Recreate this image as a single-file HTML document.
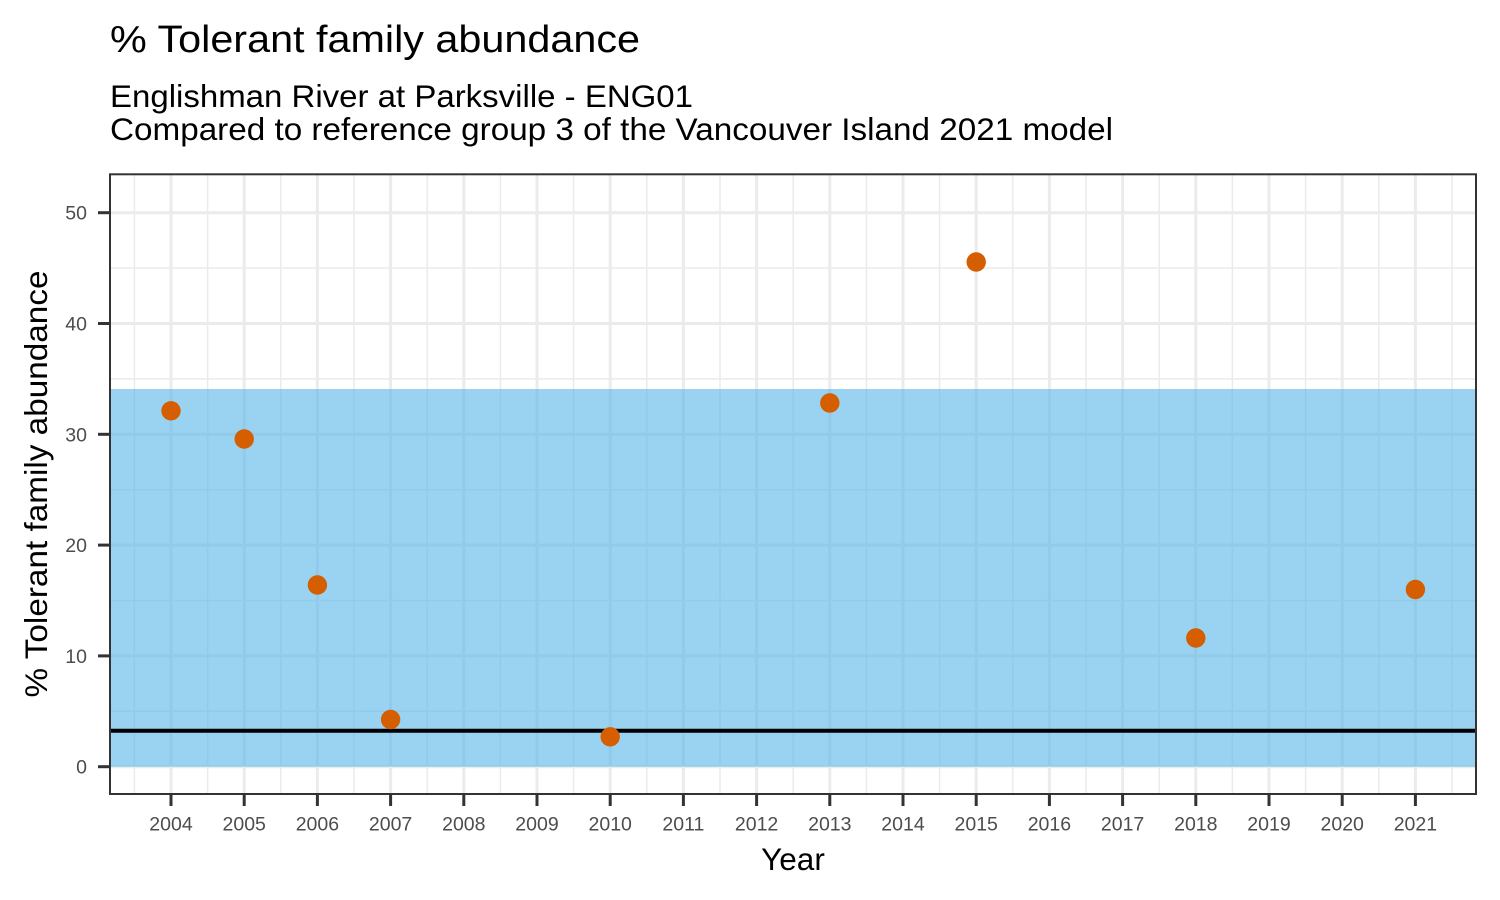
<!DOCTYPE html>
<html>
<head>
<meta charset="utf-8">
<style>
  html, body { margin: 0; padding: 0; background: #ffffff; }
  svg { display: block; }
  text { font-family: "Liberation Sans", Arial, sans-serif; }
</style>
</head>
<body>
<svg width="1500" height="900" viewBox="0 0 1500 900" xmlns="http://www.w3.org/2000/svg">
  <rect x="0" y="0" width="1500" height="900" fill="#ffffff"/>

  <!-- Titles -->
  <text x="110" y="52" font-size="38" fill="#000" textLength="530" lengthAdjust="spacingAndGlyphs">% Tolerant family abundance</text>
  <text x="110" y="107" font-size="31.5" fill="#000" textLength="583" lengthAdjust="spacingAndGlyphs">Englishman River at Parksville - ENG01</text>
  <text x="110" y="140" font-size="31.5" fill="#000" textLength="1003" lengthAdjust="spacingAndGlyphs">Compared to reference group 3 of the Vancouver Island 2021 model</text>

  <!-- Panel background -->
  <rect x="110" y="174.3" width="1366" height="619.7" fill="#ffffff"/>

  <g clip-path="url(#panelclip)">
    <!-- minor gridlines -->
    <g stroke="#EBEBEB" stroke-width="1.5">
      <line x1="110" x2="1476" y1="711.3" y2="711.3"/>
      <line x1="110" x2="1476" y1="600.5" y2="600.5"/>
      <line x1="110" x2="1476" y1="489.7" y2="489.7"/>
      <line x1="110" x2="1476" y1="378.9" y2="378.9"/>
      <line x1="110" x2="1476" y1="268.1" y2="268.1"/>
      <line y1="174.3" y2="794" x1="134.4" x2="134.4"/>
      <line y1="174.3" y2="794" x1="207.6" x2="207.6"/>
      <line y1="174.3" y2="794" x1="280.8" x2="280.8"/>
      <line y1="174.3" y2="794" x1="354" x2="354"/>
      <line y1="174.3" y2="794" x1="427.2" x2="427.2"/>
      <line y1="174.3" y2="794" x1="500.4" x2="500.4"/>
      <line y1="174.3" y2="794" x1="573.6" x2="573.6"/>
      <line y1="174.3" y2="794" x1="646.8" x2="646.8"/>
      <line y1="174.3" y2="794" x1="720" x2="720"/>
      <line y1="174.3" y2="794" x1="793.2" x2="793.2"/>
      <line y1="174.3" y2="794" x1="866.4" x2="866.4"/>
      <line y1="174.3" y2="794" x1="939.6" x2="939.6"/>
      <line y1="174.3" y2="794" x1="1012.8" x2="1012.8"/>
      <line y1="174.3" y2="794" x1="1086" x2="1086"/>
      <line y1="174.3" y2="794" x1="1159.2" x2="1159.2"/>
      <line y1="174.3" y2="794" x1="1232.4" x2="1232.4"/>
      <line y1="174.3" y2="794" x1="1305.6" x2="1305.6"/>
      <line y1="174.3" y2="794" x1="1378.8" x2="1378.8"/>
      <line y1="174.3" y2="794" x1="1452" x2="1452"/>
    </g>
    <!-- major gridlines -->
    <g stroke="#EBEBEB" stroke-width="3">
      <line x1="110" x2="1476" y1="766.7" y2="766.7"/>
      <line x1="110" x2="1476" y1="655.9" y2="655.9"/>
      <line x1="110" x2="1476" y1="545.1" y2="545.1"/>
      <line x1="110" x2="1476" y1="434.3" y2="434.3"/>
      <line x1="110" x2="1476" y1="323.5" y2="323.5"/>
      <line x1="110" x2="1476" y1="212.7" y2="212.7"/>
      <line y1="174.3" y2="794" x1="171" x2="171"/>
      <line y1="174.3" y2="794" x1="244.2" x2="244.2"/>
      <line y1="174.3" y2="794" x1="317.4" x2="317.4"/>
      <line y1="174.3" y2="794" x1="390.6" x2="390.6"/>
      <line y1="174.3" y2="794" x1="463.8" x2="463.8"/>
      <line y1="174.3" y2="794" x1="537" x2="537"/>
      <line y1="174.3" y2="794" x1="610.2" x2="610.2"/>
      <line y1="174.3" y2="794" x1="683.4" x2="683.4"/>
      <line y1="174.3" y2="794" x1="756.6" x2="756.6"/>
      <line y1="174.3" y2="794" x1="829.8" x2="829.8"/>
      <line y1="174.3" y2="794" x1="903" x2="903"/>
      <line y1="174.3" y2="794" x1="976.2" x2="976.2"/>
      <line y1="174.3" y2="794" x1="1049.4" x2="1049.4"/>
      <line y1="174.3" y2="794" x1="1122.6" x2="1122.6"/>
      <line y1="174.3" y2="794" x1="1195.8" x2="1195.8"/>
      <line y1="174.3" y2="794" x1="1269" x2="1269"/>
      <line y1="174.3" y2="794" x1="1342.2" x2="1342.2"/>
      <line y1="174.3" y2="794" x1="1415.4" x2="1415.4"/>
    </g>

    <!-- reference band -->
    <rect x="110" y="389" width="1366" height="377.7" fill="#56B4E9" fill-opacity="0.6"/>

    <!-- reference line -->
    <line x1="110" x2="1476" y1="730.7" y2="730.7" stroke="#000" stroke-width="4"/>

    <!-- points -->
    <g fill="#D55E00">
      <circle cx="171" cy="410.8" r="9.7"/>
      <circle cx="244.2" cy="439" r="9.7"/>
      <circle cx="317.4" cy="585" r="9.7"/>
      <circle cx="390.6" cy="719.5" r="9.7"/>
      <circle cx="610.2" cy="736.8" r="9.7"/>
      <circle cx="829.8" cy="403" r="9.7"/>
      <circle cx="976.2" cy="262" r="9.7"/>
      <circle cx="1195.8" cy="638" r="9.7"/>
      <circle cx="1415.4" cy="589.5" r="9.7"/>
    </g>
  </g>
  <defs>
    <clipPath id="panelclip">
      <rect x="110" y="174.3" width="1366" height="619.7"/>
    </clipPath>
  </defs>

  <!-- panel border -->
  <rect x="110" y="174.3" width="1366" height="619.7" fill="none" stroke="#333333" stroke-width="2"/>

  <!-- y ticks -->
  <g stroke="#333333" stroke-width="3">
    <line x1="98" x2="110" y1="766.7" y2="766.7"/>
    <line x1="98" x2="110" y1="655.9" y2="655.9"/>
    <line x1="98" x2="110" y1="545.1" y2="545.1"/>
    <line x1="98" x2="110" y1="434.3" y2="434.3"/>
    <line x1="98" x2="110" y1="323.5" y2="323.5"/>
    <line x1="98" x2="110" y1="212.7" y2="212.7"/>
  </g>
  <g font-size="19.5" fill="#4D4D4D" text-anchor="end">
    <text x="87" y="773.7">0</text>
    <text x="87" y="662.9">10</text>
    <text x="87" y="552.1">20</text>
    <text x="87" y="441.3">30</text>
    <text x="87" y="330.5">40</text>
    <text x="87" y="219.7">50</text>
  </g>

  <!-- x ticks -->
  <g stroke="#333333" stroke-width="3">
    <line y1="794" y2="806" x1="171" x2="171"/>
    <line y1="794" y2="806" x1="244.2" x2="244.2"/>
    <line y1="794" y2="806" x1="317.4" x2="317.4"/>
    <line y1="794" y2="806" x1="390.6" x2="390.6"/>
    <line y1="794" y2="806" x1="463.8" x2="463.8"/>
    <line y1="794" y2="806" x1="537" x2="537"/>
    <line y1="794" y2="806" x1="610.2" x2="610.2"/>
    <line y1="794" y2="806" x1="683.4" x2="683.4"/>
    <line y1="794" y2="806" x1="756.6" x2="756.6"/>
    <line y1="794" y2="806" x1="829.8" x2="829.8"/>
    <line y1="794" y2="806" x1="903" x2="903"/>
    <line y1="794" y2="806" x1="976.2" x2="976.2"/>
    <line y1="794" y2="806" x1="1049.4" x2="1049.4"/>
    <line y1="794" y2="806" x1="1122.6" x2="1122.6"/>
    <line y1="794" y2="806" x1="1195.8" x2="1195.8"/>
    <line y1="794" y2="806" x1="1269" x2="1269"/>
    <line y1="794" y2="806" x1="1342.2" x2="1342.2"/>
    <line y1="794" y2="806" x1="1415.4" x2="1415.4"/>
  </g>
  <g font-size="19.5" fill="#4D4D4D" text-anchor="middle">
    <text x="171" y="830.5">2004</text>
    <text x="244.2" y="830.5">2005</text>
    <text x="317.4" y="830.5">2006</text>
    <text x="390.6" y="830.5">2007</text>
    <text x="463.8" y="830.5">2008</text>
    <text x="537" y="830.5">2009</text>
    <text x="610.2" y="830.5">2010</text>
    <text x="683.4" y="830.5">2011</text>
    <text x="756.6" y="830.5">2012</text>
    <text x="829.8" y="830.5">2013</text>
    <text x="903" y="830.5">2014</text>
    <text x="976.2" y="830.5">2015</text>
    <text x="1049.4" y="830.5">2016</text>
    <text x="1122.6" y="830.5">2017</text>
    <text x="1195.8" y="830.5">2018</text>
    <text x="1269" y="830.5">2019</text>
    <text x="1342.2" y="830.5">2020</text>
    <text x="1415.4" y="830.5">2021</text>
  </g>

  <!-- axis titles -->
  <text x="793" y="870" font-size="31.5" fill="#000" text-anchor="middle">Year</text>
  <text transform="translate(47,484) rotate(-90)" x="0" y="0" font-size="31.5" fill="#000" text-anchor="middle" textLength="427" lengthAdjust="spacingAndGlyphs">% Tolerant family abundance</text>
</svg>
</body>
</html>
